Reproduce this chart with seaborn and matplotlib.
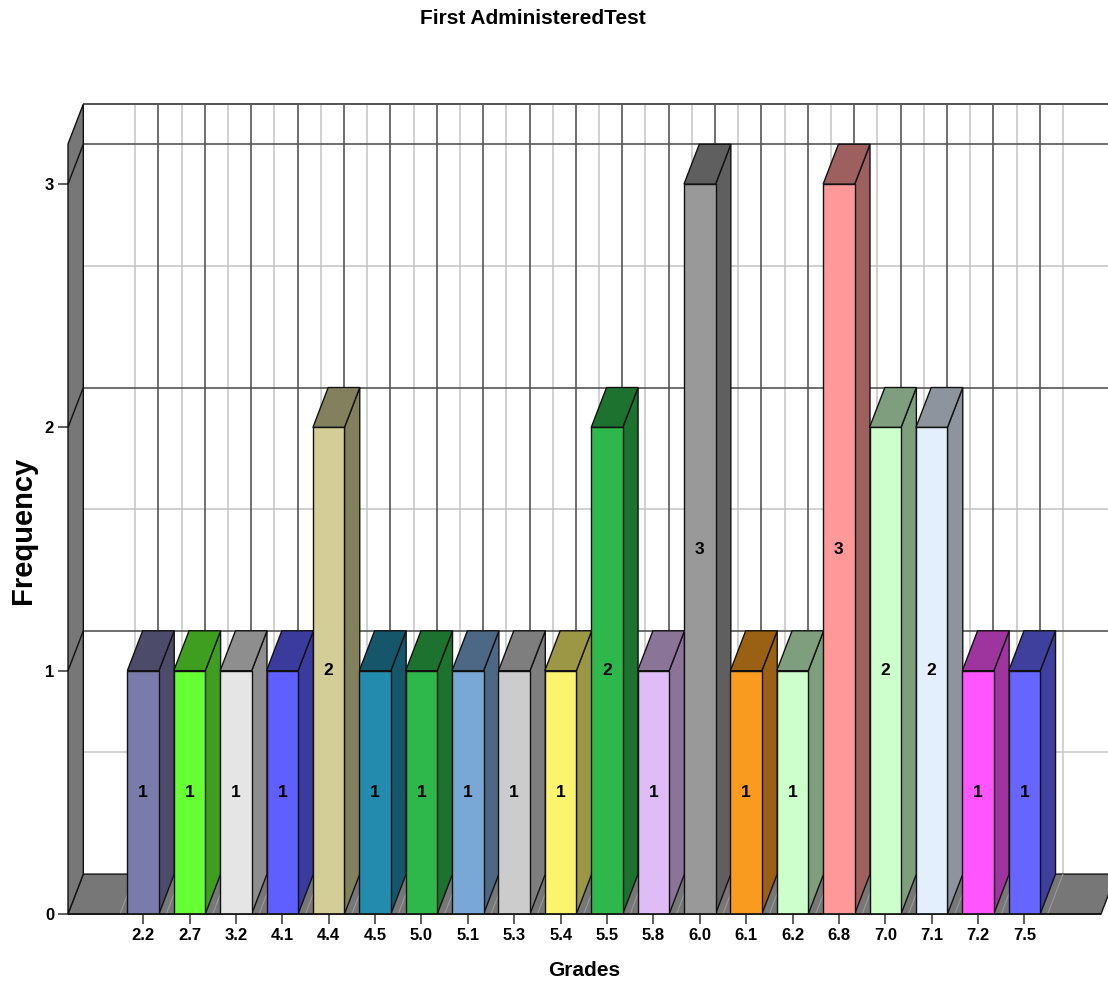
import matplotlib
matplotlib.use("Agg")
import matplotlib.pyplot as plt
import matplotlib.colors as mcolors
from matplotlib.patches import Polygon, Rectangle
import seaborn as sns
import pandas as pd

# Grade values and how often each occurred
grades = ["2.2", "2.7", "3.2", "4.1", "4.4", "4.5", "5.0", "5.1", "5.3", "5.4",
          "5.5", "5.8", "6.0", "6.1", "6.2", "6.8", "7.0", "7.1", "7.2", "7.5"]
frequency = [1, 1, 1, 1, 2, 1, 1, 1, 1, 1, 2, 1, 3, 1, 1, 3, 2, 2, 1, 1]
bar_colors = ["#7b7bab", "#66ff33", "#e5e5e5", "#5f5fff", "#d3ce97", "#238bad",
              "#2eb84b", "#7aa8d6", "#cccccc", "#faf46e", "#2eb84b", "#dfbcf5",
              "#999999", "#f99b1e", "#ccffcc", "#ff9999", "#ccffcc", "#e3effd",
              "#ff55ff", "#6666ff"]
y_ticks = [0, 1, 2, 3]

df = pd.DataFrame({"Grades": grades, "Frequency": frequency})

sns.set_theme(style="white")
plt.rcParams["font.family"] = ["Liberation Sans", "DejaVu Sans"]
plt.rcParams["font.weight"] = "bold"
for key in ["text.color", "axes.labelcolor", "xtick.color", "ytick.color"]:
    plt.rcParams[key] = "black"

fig = plt.figure(figsize=(11.08, 9.83), dpi=100)
ax = fig.add_axes([68 / 1108, 69 / 983, 1033 / 1108, 770 / 983])

XLO, XHI = -1.62, 20.65
YLO, YHI = 0.0, 3.165
DX, DY = 0.33, 0.164          # oblique depth offset (data units)
WALL = "#777777"
EDGE = "#111111"

sns.barplot(data=df, x="Grades", y="Frequency", hue="Grades", palette=bar_colors,
            order=grades, hue_order=grades, dodge=False, width=0.68, legend=False,
            saturation=1, edgecolor=EDGE, linewidth=1.0, ax=ax)

# the front faces drawn by seaborn, left to right
bars = sorted([p for p in ax.patches if isinstance(p, Rectangle) and p.get_height() > 0],
              key=lambda p: p.get_x())

ax.set_xlim(XLO, XHI)
ax.set_ylim(YLO, YHI)
for s in ax.spines.values():
    s.set_visible(False)
ax.grid(False)

def poly(pts, fc, ec=EDGE, lw=1.0, z=1):
    ax.add_patch(Polygon(pts, closed=True, facecolor=fc, edgecolor=ec,
                         linewidth=lw, zorder=z, clip_on=False, joinstyle="miter"))

def line(xs, ys, color, lw, z):
    ax.plot(xs, ys, color=color, lw=lw, zorder=z, clip_on=False,
            solid_capstyle="butt")

# back wall grid
n = len(grades)
for i in range(-1, n):
    line([i + 0.5 + DX] * 2, [DY, YHI + DY], "#c4c4c4", 1.1, 0.5)
for i in range(n):
    line([i + DX] * 2, [DY, YHI + DY], "#555555", 1.2, 0.6)
for v in [0.5, 1.5, 2.5]:
    line([XLO + DX, XHI + DX], [v + DY] * 2, "#c4c4c4", 1.1, 0.5)
for v in [1, 2, 3]:
    line([XLO + DX, XHI + DX], [v + DY] * 2, "#555555", 1.2, 0.6)
line([XLO + DX, XHI + DX], [YHI + DY] * 2, "#555555", 1.4, 0.6)

# floor and left wall
poly([(XLO, 0), (XHI, 0), (XHI + DX, DY), (XLO + DX, DY)], WALL, z=0.8)
for i in range(-1, n):
    line([i + 0.5, i + 0.5 + DX], [0, DY], "#9a9a9a", 0.8, 0.85)
poly([(XLO, 0), (XLO, YHI), (XLO + DX, YHI + DY), (XLO + DX, DY)], WALL, z=0.9)
for v in [1, 2, 3]:
    line([XLO, XLO + DX], [v, v + DY], EDGE, 1.0, 0.95)

# 3D sides and tops of each bar
for k, p in enumerate(bars):
    x0, w, h = p.get_x(), p.get_width(), p.get_height()
    x1 = x0 + w
    rgb = mcolors.to_rgb(p.get_facecolor())
    dark = tuple(c * 0.62 for c in rgb)
    z = 2 + 3 * k
    poly([(x1, 0), (x1, h), (x1 + DX, h + DY), (x1 + DX, DY)], dark, z=z)
    poly([(x0, h), (x1, h), (x1 + DX, h + DY), (x0 + DX, h + DY)], dark, z=z + 1)
    p.set_zorder(z + 2)
    p.set_edgecolor(EDGE)
    ax.text(x0 + w / 2, h / 2, f"{int(h)}", ha="center", va="center",
            fontsize=12.5, fontweight="bold", color="black", zorder=200)

# axes, ticks and labels
ax.set_yticks(y_ticks)
ax.set_yticklabels([str(t) for t in y_ticks])
ax.set_xticks(range(n))
ax.set_xticklabels(grades)
ax.tick_params(axis="both", which="major", bottom=True, left=True, length=7,
               width=1.2, color="#444444", labelsize=12, pad=3)
for lab in ax.get_xticklabels() + ax.get_yticklabels():
    lab.set_fontweight("bold")
line([XLO, XHI], [0, 0], EDGE, 1.2, 100)

ax.set_xlabel("Grades", fontsize=15, fontweight="bold")
ax.xaxis.set_label_coords(0.5, (12 - 69) / 770)
ax.xaxis.label.set_va("center")
ax.set_ylabel("Frequency", fontsize=21, fontweight="bold")
ax.yaxis.set_label_coords((23 - 68) / 1033, (983 - 530 - 69) / 770)
ax.yaxis.label.set_va("center")
ax.yaxis.label.set_ha("center")
fig.text(533 / 1108, 1 - 18 / 983, "First AdministeredTest", ha="center",
         va="center", fontsize=15, fontweight="bold")

fig.savefig("out.png", dpi=100, facecolor="white")
